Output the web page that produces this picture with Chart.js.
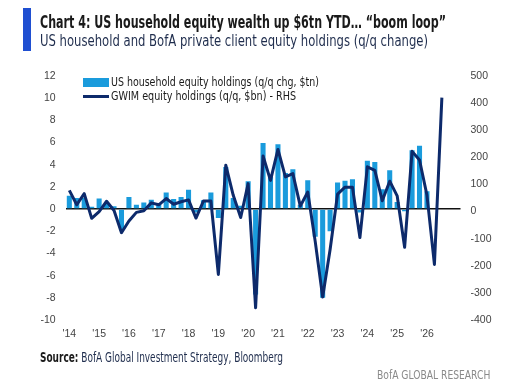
<!DOCTYPE html>
<html><head><meta charset="utf-8">
<script src="https://cdn.jsdelivr.net/npm/chart.js@4.4.1/dist/chart.umd.min.js"></script>
<style>
html,body{margin:0;padding:0;background:#fff;}
#wrap{position:relative;width:532px;height:385px;overflow:hidden;background:#fff;}
#c{position:absolute;left:0;top:0;}
.t{position:absolute;white-space:nowrap;line-height:1;transform-origin:0 0;font-family:"Liberation Sans Narrow","DejaVu Sans Condensed","Liberation Sans",sans-serif;}
</style></head><body>
<div id="wrap">
<canvas id="c" width="532" height="385"></canvas>
<div style="position:absolute;left:23px;top:8px;width:8px;height:43px;background:#1f4fd1"></div>
<div class="t" id="title" style="font-weight:bold;color:#1a1a1a">Chart 4: US household equity wealth up $6tn YTD… “boom loop”</div>
<div class="t" id="sub" style="color:#1f2d4d">US household and BofA private client equity holdings (q/q change)</div>
<div style="position:absolute;left:83px;top:78px;width:26px;height:9px;background:#1a9bdc"></div>
<div class="t" id="leg1" style="color:#1a1a1a">US household equity holdings (q/q chg, $tn)</div>
<div style="position:absolute;left:83px;top:95px;width:26px;height:2.5px;background:#0d2a6b"></div>
<div class="t" id="leg2" style="color:#1a1a1a">GWIM equity holdings (q/q, $bn) - RHS</div>
<div class="t" id="src" style="color:#1f2d4d"><b style="color:#1a1a1a">Source:</b> BofA Global Investment Strategy, Bloomberg</div>
<div class="t" id="brand" style="color:#8a8a8a">BofA GLOBAL RESEARCH</div>
</div>
<script>
const quarters = ["2013Q4","2014Q1","2014Q2","2014Q3","2014Q4","2015Q1","2015Q2","2015Q3","2015Q4","2016Q1","2016Q2","2016Q3","2016Q4","2017Q1","2017Q2","2017Q3","2017Q4","2018Q1","2018Q2","2018Q3","2018Q4","2019Q1","2019Q2","2019Q3","2019Q4","2020Q1","2020Q2","2020Q3","2020Q4","2021Q1","2021Q2","2021Q3","2021Q4","2022Q1","2022Q2","2022Q3","2022Q4","2023Q1","2023Q2","2023Q3","2023Q4","2024Q1","2024Q2","2024Q3","2024Q4","2025Q1","2025Q2","2025Q3","2025Q4","2026Q1","2026Q2","2026Q3","2026Q4"];
const yearTicks = ["'14","'15","'16","'17","'18","'19","'20","'21","'22","'23","'24","'25","'26"];
const householdEquity = [1.2,1.0,1.0,0.2, 0.95,0.55,0.25,-1.9, 1.1,0.4,0.6,0.85, 0.55,1.5,0.9,1.1, 1.75,-0.3,0.8,1.5, -0.8,3.8,1.0,0.3, 2.5,-7.7,5.95,2.95, 5.85,3.25,3.6,0.4, 2.6,-2.5,-8.0,-2.0, 2.4,2.55,2.7,-0.3, 4.35,4.25,1.8,3.5, 0.65,-0.2,5.3,5.7, 1.6,null,null,null,null];
const gwimEquity = [78,25,66,-25, 0,38,4,-78, -35,-3,3,32, 25,48,27,36, 43,-24,39,39, -232,171,60,-22, 103,-355,205,115, 229,128,140,20, 72,-110,-315,-140, 64,90,90,-96, 165,152,40,112, 58,-132,222,190, 60,-195,420,null,null];
const leftTicks = {min:-10, max:12, step:2};
const rightTicks = {min:-400, max:500, step:100};

function place(id, left, baseline, width, size){
  const el = document.getElementById(id);
  el.style.fontSize = size + 'px';
  el.style.left = left + 'px';
  el.style.top = (baseline - 0.846*size) + 'px';
  const w = el.getBoundingClientRect().width;
  el.style.transform = 'scaleX(' + (width / w) + ')';
}
place('title', 40, 28.3, 406, 18);
place('sub', 40, 46.7, 388, 15);
place('leg1', 110.5, 86.5, 208, 12);
place('leg2', 110.5, 100, 185, 12);
place('src', 40, 362, 243, 14);
place('brand', 376.7, 379.3, 113.3, 13);

const tickFont = {family:"'Liberation Sans', Arial, sans-serif", size:10.5};
const tickColor = '#444';
new Chart(document.getElementById('c'), {
  data: {
    labels: quarters,
    datasets: [
      {type:'line', data:gwimEquity, yAxisID:'y2', borderColor:'#0d2a6b', borderWidth:3, pointRadius:0, tension:0, order:0, borderJoinStyle:'round'},
      {type:'bar', data:householdEquity, yAxisID:'y', backgroundColor:'#1a9bdc', categoryPercentage:1, barPercentage:0.68, order:1}
    ]
  },
  options: {
    responsive:false, animation:false, devicePixelRatio:1,
    layout:{padding:{left:0, right:0, top:76, bottom:35}},
    plugins:{legend:{display:false}, tooltip:{enabled:false}},
    scales:{
      x:{
        grid:{display:false, drawTicks:false}, border:{display:false},
        ticks:{autoSkip:false, maxRotation:0, minRotation:0, padding:8, font:tickFont, color:tickColor,
          callback:(v,i)=> (i%4===0 ? yearTicks[i/4] : '')},
        afterFit:s=>{s.height=30;}
      },
      y:{
        position:'left', min:leftTicks.min, max:leftTicks.max,
        ticks:{stepSize:leftTicks.step, padding:10, font:tickFont, color:tickColor},
        grid:{drawTicks:false, color:c=> (c.tick && c.tick.value===0 ? '#111' : 'rgba(0,0,0,0)'), lineWidth:1.5},
        border:{display:false},
        afterFit:s=>{s.width=65.6;}
      },
      y2:{
        position:'right', min:rightTicks.min, max:rightTicks.max,
        ticks:{stepSize:rightTicks.step, padding:10, font:tickFont, color:tickColor},
        grid:{display:false, drawTicks:false}, border:{display:false},
        afterFit:s=>{s.width=71.5;}
      }
    }
  }
});
</script>
</body></html>
